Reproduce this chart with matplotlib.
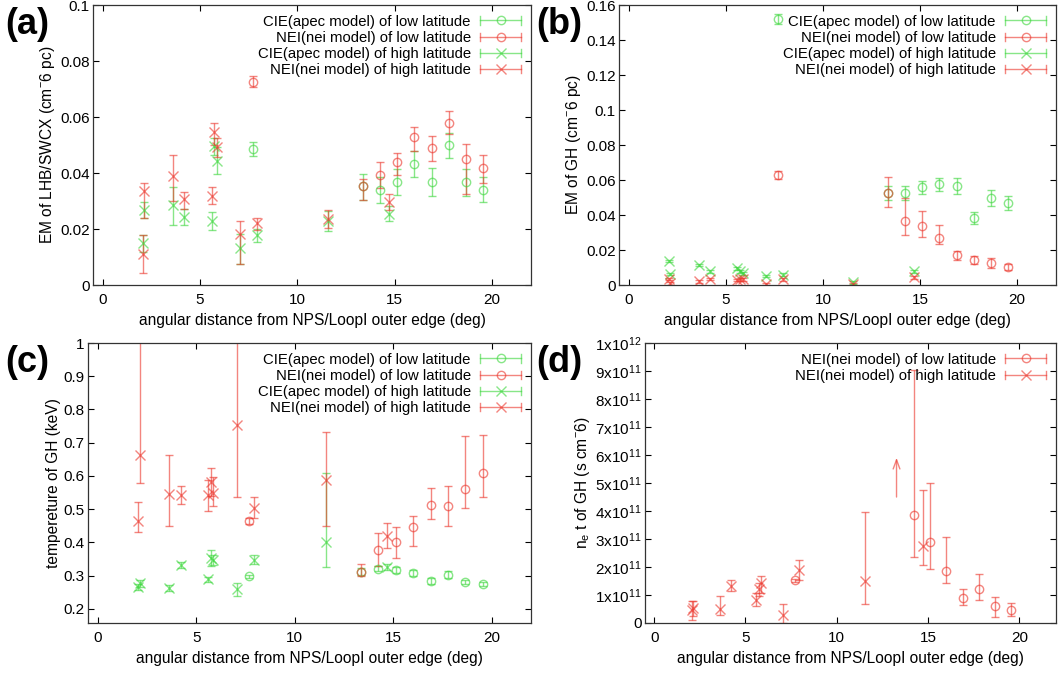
import numpy as np
import matplotlib
matplotlib.use('Agg')
import matplotlib.pyplot as plt
from matplotlib.lines import Line2D
from matplotlib.legend_handler import HandlerBase

plt.rcParams['font.family'] = ['Liberation Sans', 'DejaVu Sans']
plt.rcParams['font.size'] = 11
plt.rcParams['mathtext.fontset'] = 'custom'
plt.rcParams['mathtext.rm'] = 'Liberation Sans'
plt.rcParams['mathtext.it'] = 'Liberation Sans'

# angular distance of the fields (deg)
low_x = np.array([7.7, 13.35, 14.25, 15.12, 16.0, 16.9, 17.8, 18.65, 19.55])
high_x = np.array([2.05, 2.12, 3.62, 4.2, 5.6, 5.73, 5.86, 7.07, 7.92, 11.57, 14.7])

# (a) EM of LHB/SWCX : value, lower bound, upper bound
a_cie_low = [0.0484, 0.0352, 0.0339, 0.0369, 0.0431, 0.0369, 0.0499, 0.0369, 0.0339]
a_cie_low_lo = [0.0459, 0.0303, 0.0293, 0.0321, 0.0384, 0.0319, 0.0454, 0.0319, 0.0296]
a_cie_low_hi = [0.0509, 0.0396, 0.0385, 0.0414, 0.0480, 0.0417, 0.0542, 0.0414, 0.0385]
a_nei_low = [0.0726, 0.0352, 0.0393, 0.0438, 0.0527, 0.0488, 0.0580, 0.0449, 0.0419]
a_nei_low_lo = [0.0706, 0.0303, 0.0346, 0.0394, 0.0480, 0.0443, 0.0540, 0.0325, 0.0363]
a_nei_low_hi = [0.0746, 0.0377, 0.0441, 0.0472, 0.0566, 0.0531, 0.0620, 0.0504, 0.0463]
a_cie_high = [0.0149, 0.0267, 0.0287, 0.0244, 0.0229, 0.0496, 0.0444, 0.0131, 0.0178, 0.0229, 0.0253]
a_cie_high_lo = [0.0119, 0.0239, 0.0214, 0.0214, 0.0196, 0.0466, 0.0396, 0.0074, 0.0155, 0.0193, 0.0227]
a_cie_high_hi = [0.0178, 0.0297, 0.0349, 0.0271, 0.0262, 0.0526, 0.0492, 0.0181, 0.0199, 0.0265, 0.0283]
a_nei_high = [0.0110, 0.0334, 0.0388, 0.0306, 0.0319, 0.0546, 0.0492, 0.0181, 0.0220, 0.0236, 0.0296]
a_nei_high_lo = [0.0042, 0.0238, 0.0301, 0.0270, 0.0289, 0.0500, 0.0456, 0.0074, 0.0196, 0.0205, 0.0267]
a_nei_high_hi = [0.0178, 0.0364, 0.0464, 0.0331, 0.0349, 0.0579, 0.0525, 0.0227, 0.0241, 0.0269, 0.0325]

# (b) EM of GH
b_cie_low = [0.152, 0.0526, 0.0526, 0.0558, 0.0575, 0.0564, 0.0385, 0.0499, 0.0469]
b_cie_low_lo = [0.149, 0.0486, 0.0486, 0.0520, 0.0535, 0.0520, 0.0349, 0.0453, 0.0429]
b_cie_low_hi = [0.155, 0.0566, 0.0566, 0.0596, 0.0613, 0.0611, 0.0419, 0.0545, 0.0510]
b_nei_low = [0.0627, 0.0526, 0.0364, 0.0337, 0.0267, 0.0170, 0.0145, 0.0126, 0.0103]
b_nei_low_lo = [0.0605, 0.0444, 0.0288, 0.0272, 0.0234, 0.0143, 0.0120, 0.0097, 0.0086]
b_nei_low_hi = [0.0649, 0.0615, 0.0495, 0.0425, 0.0345, 0.0196, 0.0168, 0.0154, 0.0120]
b_cie_high = [0.0137, 0.0063, 0.0114, 0.0078, 0.0095, 0.0078, 0.0067, 0.0051, 0.0059, 0.0015, 0.0078]
b_cie_high_lo = [0.0129, 0.0055, 0.0106, 0.0070, 0.0087, 0.0070, 0.0059, 0.0043, 0.0051, 0.0007, 0.0070]
b_cie_high_hi = [0.0145, 0.0071, 0.0122, 0.0086, 0.0103, 0.0086, 0.0075, 0.0059, 0.0067, 0.0023, 0.0086]
b_nei_high = [0.0034, 0.0010, 0.0021, 0.0034, 0.0029, 0.0032, 0.0032, 0.0006, 0.0032, 0.0006, 0.0044]
b_nei_high_lo = [0.0026, 0.0002, 0.0013, 0.0026, 0.0021, 0.0024, 0.0024, 0.0000, 0.0024, 0.0000, 0.0036]
b_nei_high_hi = [0.0042, 0.0018, 0.0029, 0.0042, 0.0037, 0.0040, 0.0040, 0.0014, 0.0040, 0.0014, 0.0052]

# (c) temperature of GH (keV)
c_cie_low = [0.297, 0.312, 0.321, 0.317, 0.308, 0.283, 0.303, 0.280, 0.274]
c_cie_low_lo = [0.292, 0.302, 0.313, 0.309, 0.300, 0.275, 0.293, 0.273, 0.267]
c_cie_low_hi = [0.302, 0.322, 0.329, 0.325, 0.316, 0.291, 0.313, 0.287, 0.281]
c_nei_low = [0.464, 0.312, 0.378, 0.400, 0.447, 0.512, 0.509, 0.560, 0.610]
c_nei_low_lo = [0.456, 0.300, 0.328, 0.353, 0.388, 0.469, 0.449, 0.502, 0.536]
c_nei_low_hi = [0.472, 0.335, 0.429, 0.447, 0.479, 0.564, 0.570, 0.720, 0.724]
c_cie_high = [0.265, 0.276, 0.262, 0.332, 0.288, 0.353, 0.346, 0.258, 0.348, 0.400, 0.326]
c_cie_high_lo = [0.255, 0.266, 0.252, 0.322, 0.280, 0.328, 0.331, 0.238, 0.334, 0.326, 0.318]
c_cie_high_hi = [0.275, 0.286, 0.272, 0.342, 0.296, 0.378, 0.361, 0.278, 0.362, 0.608, 0.334]
c_nei_high = [0.464, 0.662, 0.544, 0.542, 0.542, 0.582, 0.549, 0.752, 0.504, 0.587, 0.420]
c_nei_high_lo = [0.432, 0.577, 0.449, 0.516, 0.494, 0.539, 0.509, 0.536, 0.474, 0.449, 0.383]
c_nei_high_hi = [0.521, 1.200, 0.664, 0.568, 0.589, 0.625, 0.598, 1.200, 0.536, 0.732, 0.459]

# (d) n_e t of GH (1e11 s cm^-6), nan = lower limit only
d_nei_low = [1.52, np.nan, 3.85, 2.89, 1.85, 0.89, 1.20, 0.60, 0.48]
d_nei_low_lo = [1.47, np.nan, 2.35, 1.93, 1.43, 0.65, 0.83, 0.21, 0.24]
d_nei_low_hi = [1.57, np.nan, 9.05, 5.00, 3.07, 1.21, 1.76, 0.92, 0.71]
d_nei_high = [0.48, 0.54, 0.51, 1.33, 0.81, 1.21, 1.43, 0.27, 1.88, 1.51, 2.74]
d_nei_high_lo = [0.12, 0.24, 0.30, 1.13, 0.60, 0.95, 1.07, 0.00, 1.55, 0.68, 2.08]
d_nei_high_hi = [0.77, 0.77, 0.95, 1.55, 1.07, 1.43, 1.67, 0.68, 2.26, 3.95, 4.74]
d_limit_x = 13.27
d_limit_y = 4.4

xticks = [0, 5, 10, 15, 20]
d_ytick_labels = ['0'] + [r'%dx10$^{11}$' % i for i in range(1, 10)] + [r'1x10$^{12}$']

GREEN = '#3fd83f'
RED = '#ec3a30'
ALPHA = 0.62
XLABEL = 'angular distance from NPS/LoopI outer edge (deg)'
labels = ['CIE(apec model) of low latitude', 'NEI(nei model) of low latitude',
          'CIE(apec model) of high latitude', 'NEI(nei model) of high latitude']


class HBarHandler(HandlerBase):
    # gnuplot style key sample: horizontal bar with caps and the point in the middle
    def create_artists(self, legend, orig, xd, yd, w, h, fs, trans):
        c = orig.get_color()
        y = h / 2 - yd
        x0, x1 = -xd, w - xd
        arts = [Line2D([x0, x1], [y, y], color=c, lw=1, alpha=ALPHA),
                Line2D([x0, x0], [y - 3, y + 3], color=c, lw=1, alpha=ALPHA),
                Line2D([x1, x1], [y - 3, y + 3], color=c, lw=1, alpha=ALPHA),
                Line2D([(x0 + x1) / 2], [y], marker=orig.get_marker(), ls='none',
                       mfc='none', mec=c, ms=orig.get_markersize(), mew=1, alpha=ALPHA)]
        for a in arts:
            a.set_transform(trans)
        return arts


def draw(ax, x, v, lo, hi, color, marker, scale=1.0):
    x = np.asarray(x, float)
    v = np.asarray(v, float) * scale
    lo = np.asarray(lo, float) * scale
    hi = np.asarray(hi, float) * scale
    m = ~np.isnan(v)
    ax.errorbar(x[m], v[m], yerr=[v[m] - lo[m], hi[m] - v[m]], fmt=marker, ms=6 if marker == 'o' else 6.5,
                mfc='none', mec=color, mew=1, ecolor=color, elinewidth=1, capsize=3, capthick=1,
                alpha=ALPHA)


def style(ax, ylabel):
    ax.set_xlim(-0.5, 22)
    ax.set_xticks(xticks)
    ax.tick_params(direction='in', top=True, right=True, length=4, width=0.8, labelsize=11)
    ax.tick_params(axis='x', pad=6)
    ax.tick_params(axis='y', pad=2.5)
    for s in ax.spines.values():
        s.set_color('#333333')
        s.set_linewidth(0.9)
    ax.set_xlabel(XLABEL, fontsize=11.2, labelpad=4)
    ax.set_ylabel(ylabel, fontsize=11.2, labelpad=2)


def legend(ax, colors, markers, names):
    handles = [Line2D([], [], color=c, marker=m, ms=6 if m == 'o' else 6.5) for c, m in zip(colors, markers)]
    ax.legend(handles, names, loc='upper right', frameon=False, markerfirst=False,
              handler_map={Line2D: HBarHandler()}, handlelength=2.8, handletextpad=0.6,
              labelspacing=0.15, borderaxespad=0.3, borderpad=0.35, fontsize=10.7)


W, H = 1060, 675
fig = plt.figure(figsize=(W / 100, H / 100), dpi=100)


def box(l, r, t, b):
    return [l / W, 1 - b / H, (r - l) / W, (b - t) / H]


ax_a = fig.add_axes(box(93, 531, 5, 285))
ax_b = fig.add_axes(box(619, 1056, 5, 285))
ax_c = fig.add_axes(box(88, 531, 343, 623))
ax_d = fig.add_axes(box(645, 1056, 343, 623))

# (a)
draw(ax_a, low_x, a_cie_low, a_cie_low_lo, a_cie_low_hi, GREEN, 'o')
draw(ax_a, low_x, a_nei_low, a_nei_low_lo, a_nei_low_hi, RED, 'o')
draw(ax_a, high_x, a_cie_high, a_cie_high_lo, a_cie_high_hi, GREEN, 'x')
draw(ax_a, high_x, a_nei_high, a_nei_high_lo, a_nei_high_hi, RED, 'x')
ax_a.set_ylim(0, 0.1)
ax_a.set_yticks(np.arange(0, 0.101, 0.02))
ax_a.set_yticklabels(['%g' % round(t, 3) for t in np.arange(0, 0.101, 0.02)])
style(ax_a, r'EM of LHB/SWCX (cm$^{-}$6 pc)')
legend(ax_a, [GREEN, RED, GREEN, RED], ['o', 'o', 'x', 'x'], labels)

# (b)
draw(ax_b, low_x, b_cie_low, b_cie_low_lo, b_cie_low_hi, GREEN, 'o')
draw(ax_b, low_x, b_nei_low, b_nei_low_lo, b_nei_low_hi, RED, 'o')
draw(ax_b, high_x, b_cie_high, b_cie_high_lo, b_cie_high_hi, GREEN, 'x')
draw(ax_b, high_x, b_nei_high, b_nei_high_lo, b_nei_high_hi, RED, 'x')
ax_b.set_ylim(0, 0.16)
ax_b.set_yticks(np.arange(0, 0.161, 0.02))
ax_b.set_yticklabels(['%g' % round(t, 3) for t in np.arange(0, 0.161, 0.02)])
style(ax_b, r'EM of GH (cm$^{-}$6 pc)')
legend(ax_b, [GREEN, RED, GREEN, RED], ['o', 'o', 'x', 'x'], labels)

# (c)
draw(ax_c, low_x, c_cie_low, c_cie_low_lo, c_cie_low_hi, GREEN, 'o')
draw(ax_c, low_x, c_nei_low, c_nei_low_lo, c_nei_low_hi, RED, 'o')
draw(ax_c, high_x, c_cie_high, c_cie_high_lo, c_cie_high_hi, GREEN, 'x')
draw(ax_c, high_x, c_nei_high, c_nei_high_lo, c_nei_high_hi, RED, 'x')
ax_c.set_ylim(0.157, 1)
ax_c.set_yticks(np.arange(0.2, 1.01, 0.1))
ax_c.set_yticklabels(['%g' % round(t, 2) for t in np.arange(0.2, 1.01, 0.1)])
style(ax_c, 'tempereture of GH (keV)')
legend(ax_c, [GREEN, RED, GREEN, RED], ['o', 'o', 'x', 'x'], labels)

# (d)
draw(ax_d, low_x, d_nei_low, d_nei_low_lo, d_nei_low_hi, RED, 'o', 1e11)
draw(ax_d, high_x, d_nei_high, d_nei_high_lo, d_nei_high_hi, RED, 'x', 1e11)
ax_d.annotate('', xy=(d_limit_x, (d_limit_y + 1.6) * 1e11), xytext=(d_limit_x, d_limit_y * 1e11),
              arrowprops=dict(arrowstyle='->,head_length=0.6,head_width=0.22', color=RED, lw=1, alpha=ALPHA))
ax_d.set_ylim(0, 1e12)
ax_d.set_yticks(np.arange(0, 11) * 1e11)
ax_d.set_yticklabels(d_ytick_labels)
style(ax_d, r'n$_{\rm e}$ t of GH (s cm$^{-}$6)')
legend(ax_d, [RED, RED], ['o', 'x'], labels[1::2])

for lab, x, y in [('(a)', 5, 25), ('(b)', 536, 25), ('(c)', 5, 362), ('(d)', 536, 362)]:
    fig.text(x / W, 1 - y / H, lab, fontsize=26, fontweight='bold', va='center', ha='left')

fig.savefig('out.png', dpi=100)
